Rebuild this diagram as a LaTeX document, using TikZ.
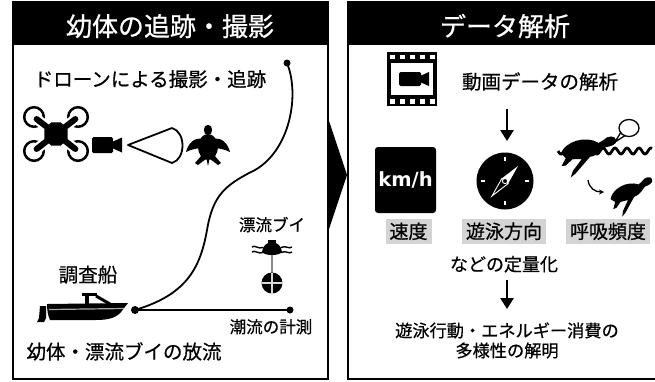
\documentclass[tikz,border=0pt]{standalone}
\usepackage{fontspec}
\setmainfont{Noto Sans CJK JP}[FakeBold=0.6]
\newfontfamily\unitfont{DejaVu Sans}
\usetikzlibrary{arrows.meta,shapes.geometric,calc}
\definecolor{tagbg}{HTML}{D4D4D4}
\definecolor{rodgray}{HTML}{8A8A8A}

\tikzset{
  panel/.style={draw, line width=2pt},
  ttl/.style={text=white, anchor=base, inner sep=0pt, font=\fontsize{26}{26}\selectfont},
  lbl/.style={anchor=base, inner sep=0pt, font=\fontsize{19.5}{20}\selectfont},
  slbl/.style={anchor=base, inner sep=0pt, font=\fontsize{16.5}{17}\selectfont},
  mlbl/.style={anchor=base, inner sep=0pt, font=\fontsize{18}{18}\selectfont},
  tag/.style={anchor=base, fill=tagbg, inner xsep=4pt, inner ysep=4pt,
    text height=16pt, text depth=1pt, font=\fontsize{19}{19}\selectfont},
  dot/.style={circle, fill, inner sep=0pt, minimum size=7pt},
  track/.style={line width=1.8pt},
  downarrow/.style={line width=2.6pt, -{Triangle[width=13pt,length=11pt]}},
  kmbox/.style={fill, rounded corners=3pt, minimum width=61pt, minimum height=66pt,
    inner sep=0pt, text=white, font=\unitfont\bfseries\fontsize{19.5}{19.5}\selectfont},
  sideturtle/.pic={
    \fill (-24,-1) .. controls (-18,-12) and (2,-15) .. (13,-6)
      -- (18,-8) .. controls (22,-12) and (30,-11) .. (30,-6)
      .. controls (30,-2) and (24,-1) .. (19,-1)
      -- (13,3) .. controls (10,5) and (6,6) .. (3,6)
      -- (-13,20) -- (-18,23) -- (-15,17) -- (-5,7)
      -- (-14,6) -- (-21,11) -- (-25,11) -- (-20,4)
      -- cycle;
  }
}

\begin{document}
\begin{tikzpicture}[x=1pt,y=-1pt]
\useasboundingbox (0,0) rectangle (655,381);
\fill[white] (0,0) rectangle (655,381);

% ---------- panels ----------
\fill (13,2) rectangle (328,45);
\draw[panel] (13,2) rectangle (328,379);
\fill (348,2) rectangle (662,45);
\draw[panel] (348,2) rectangle (662,379);
\fill (328,118) -- (347,175) -- (328,232) -- cycle;

\node[ttl] (title1) at (170,36) {幼体の追跡・撮影};
\node[ttl] (title2) at (505,36) {データ解析};

% ---------- left panel: drone filming a hatchling ----------
\node[lbl] (dronetxt) at (150,86.5) {ドローンによる撮影・追跡};

\coordinate (drone) at (56,134);
\foreach \px/\py in {34/117,78/117,34/151,78/151} {
  \draw[line width=2.5pt] (\px,\py) circle[radius=9.8];
}
\foreach \px/\py in {34/117,78/117,34/151,78/151} {
  \draw[white, line width=10.5pt, line cap=round] (drone) -- ($(drone)!0.88!(\px,\py)$);
}
\foreach \px/\py in {34/117,78/117,34/151,78/151} {
  \draw[line width=6pt, line cap=round] (drone) -- ($(drone)!0.88!(\px,\py)$);
}
\node[regular polygon, regular polygon sides=8, fill, inner sep=0pt, minimum size=25pt] (dronebody) at (drone) {};

% video camera
\fill[rounded corners=1.5pt] (92,137) rectangle (113,153);
\fill (112,142) -- (122,137.5) -- (122,152.5) -- (112,148) -- cycle;
% field of view
\draw[line width=1.8pt, line join=round] (172,128) -- (128,145) -- (172,163)
  .. controls (186,159) and (186,132) .. (172,128);

% hatchling seen from above
\begin{scope}[shift={(208,146)}]
  \fill (0,-16) ellipse[x radius=4.2, y radius=5.2];
  \fill (0,1) ellipse[x radius=10, y radius=13];
  \fill (-6,-7) .. controls (-14,-9) and (-20,-2) .. (-22,6)
    .. controls (-16,3) and (-10,2) .. (-5,2) -- cycle;
  \fill (6,-7) .. controls (14,-9) and (20,-2) .. (22,6)
    .. controls (16,3) and (10,2) .. (5,2) -- cycle;
  \fill (-6,9) -- (-13,17) -- (-10,19) -- (-2,13) -- cycle;
  \fill (6,9) -- (13,17) -- (10,19) -- (2,13) -- cycle;
  \fill (-1.5,13) -- (0,20) -- (1.5,13) -- cycle;
\end{scope}

% tracking path and tidal line
\node[dot, minimum size=8pt] (boatdot) at (135,310) {};
\node[dot] (trackend) at (287,63) {};
\node[dot] (tideend) at (290,310) {};
\draw[track] (boatdot.center) .. controls (185,295) and (200,270) .. (207,230)
  .. controls (213,195) and (225,185) .. (255,170)
  .. controls (290,150) and (300,95) .. (trackend.center);
\draw[track] (boatdot.center) -- (tideend.center);

% drifting buoy
\node[slbl] (buoytxt) at (272,231) {漂流ブイ};
\fill (268,240) rectangle (276,244.5);
\fill (262,252) .. controls (263,239) and (281,239) .. (282,252)
  .. controls (279,256) and (265,256) .. (262,252) -- cycle;
\draw[line width=1.4pt] (252,247) .. controls (255,244.5) and (258,249.5) .. (263,247.5);
\draw[line width=1.4pt] (252,252) .. controls (255,249.5) and (258,254.5) .. (263,252.5);
\draw[line width=1.4pt] (281,247.5) .. controls (286,245) and (289,249.5) .. (292,247);
\draw[line width=1.4pt] (281,252.5) .. controls (286,250) and (289,254.5) .. (292,252);
\draw[rodgray, line width=2pt] (272,255) -- (272,273);
\fill (272,283) circle[radius=10.5];
\draw[white!85!black, line width=1.2pt] (261.5,283) -- (282.5,283) (272,272.5) -- (272,293.5);

% research vessel
\node[lbl] (shiptxt) at (88,282) {調査船};
\fill (47,304) -- (128,303) -- (121,312) .. controls (116,318) and (108,320) .. (96,320)
  -- (50,320) .. controls (48,316) and (47,310) .. (47,304) -- cycle;
\draw[white!65!black, line width=1.2pt] (49,309.5) -- (124,308.5);
\draw[line width=3.5pt] (82,294.5) -- (97,294.5);
\draw[line width=3.5pt] (87,294.5) -- (87,304);
\draw[line width=3pt] (96,296) -- (110,304);
\fill (40,306) -- (46,306) -- (46,318) -- (44,322) -- (37,322) -- (39,318) -- cycle;

\node[slbl] (tidetxt) at (271,333) {潮流の計測};
\node[lbl] (releasetxt) at (124,359) {幼体・漂流ブイの放流};

% ---------- right panel: video analysis ----------
\fill (387,52) rectangle (437,106);
\foreach \i in {0,...,4} {
  \fill[white] ({390+\i*10},54.5) rectangle ({394.5+\i*10},59);
  \fill[white] ({390+\i*10},99) rectangle ({394.5+\i*10},103.5);
}
\fill[white] (391,63) rectangle (433,95);
\fill[rounded corners=1.5pt] (399,72) rectangle (421,86);
\fill (420,76) -- (429,72) -- (429,86) -- (420,82) -- cycle;
\node[lbl] (videotxt) at (540,89) {動画データの解析};

\coordinate (a1s) at (507,109);
\coordinate (a1e) at (507,141);
\draw[downarrow] (a1s) -- (a1e);

% speed
\node[kmbox] (kmh) at (405.5,180) {km/h};

% compass
\fill (505,181) circle[radius=28.5];
\draw[white, line width=1.6pt] (505,157) -- (505,161) (505,201) -- (505,205)
  (481,181) -- (485,181) (525,181) -- (529,181);
\fill[white] (518,166) -- (508.1,183.6) -- (501.9,178.4) -- cycle;
\filldraw[fill=black, draw=white, line width=0.9pt] (492,196) -- (508.1,183.6) -- (501.9,178.4) -- cycle;
\filldraw[fill=black, draw=white, line width=0.9pt] (505,181) circle[radius=2.6];

% breathing turtles
\draw[line width=2.8pt] plot[domain=558:652, samples=90] (\x, {151+3*sin((\x-558)*30)});
\pic[shift={(586,151)}, rotate=8, scale=1.05] {sideturtle};
\draw[line width=1.3pt, fill=white, line join=round] (621,132) -- (615,142) -- (626,135);
\draw[line width=1.3pt, fill=white] (629,128) ellipse[x radius=10, y radius=8.5];
\draw[line width=1.3pt, -{Stealth[length=5pt,width=5pt]}] (588,180) .. controls (589,188) and (595,192) .. (604,192);
\pic[shift={(630,193)}, rotate=20, scale=0.85] {sideturtle};

% quantities
\node[tag] (speed) at (408.5,238.5) {速度};
\node[tag] (heading) at (504,238.5) {遊泳方向};
\node[tag] (breath) at (608,238.5) {呼吸頻度};
\node[mlbl] (quant) at (504,271) {などの定量化};

\coordinate (a2s) at (507,280);
\coordinate (a2e) at (507,309);
\draw[downarrow] (a2s) -- (a2e);

\node[anchor=base, inner sep=0pt, align=center, font=\fontsize{17.2}{20}\selectfont] (result) at (507,357)
  {遊泳行動・エネルギー消費の\\多様性の解明};
\end{tikzpicture}
\end{document}
